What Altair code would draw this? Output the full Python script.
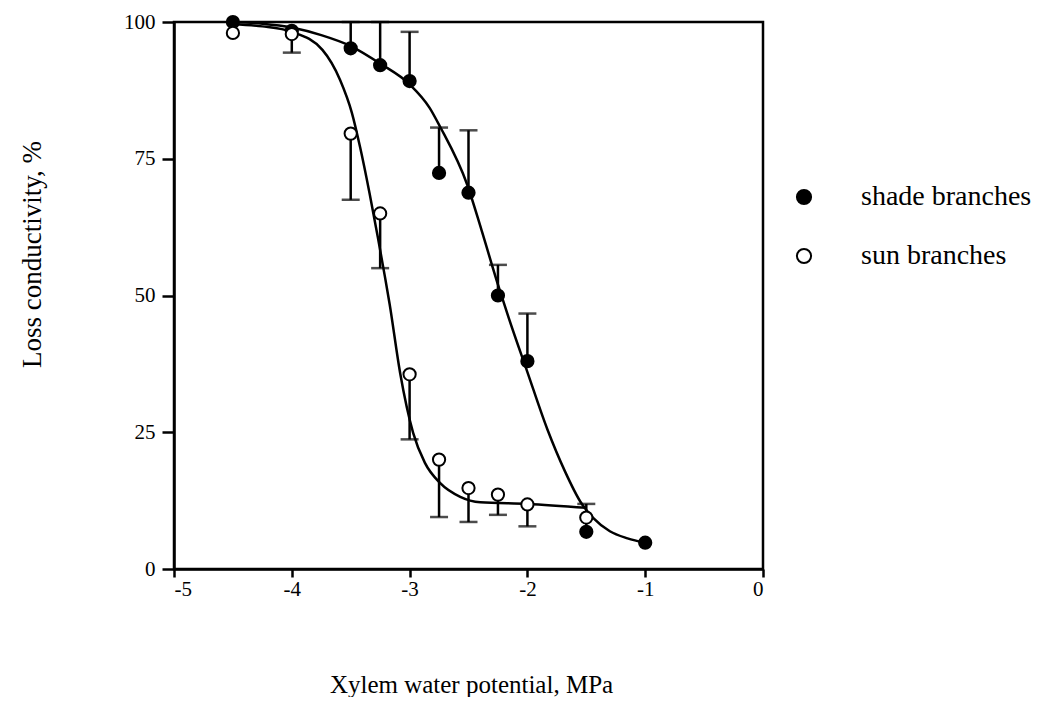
import altair as alt
import pandas as pd

# ---- measured points ----
shade_x = [-4.5, -4.0, -3.5, -3.25, -3.0, -2.75, -2.5, -2.25, -2.0, -1.5, -1.0]
shade_y = [100.0, 98.4, 95.2, 92.1, 89.2, 72.4, 68.8, 50.0, 38.0, 6.8, 4.8]
shade_bound = [None, None, 100.0, 100.0, 98.2, 80.7, 80.2, 55.6, 46.7, 11.9, None]

sun_x = [-4.5, -4.0, -3.5, -3.25, -3.0, -2.75, -2.5, -2.25, -2.0, -1.5]
sun_y = [98.0, 97.8, 79.6, 65.0, 35.6, 20.0, 14.8, 13.6, 11.8, 9.4]
sun_bound = [None, 94.4, 67.5, 55.0, 23.7, 9.5, 8.6, 9.9, 7.8, None]

# ---- fitted curves ----
shade_curve_x = [-4.5, -4.25, -4.0, -3.75, -3.5, -3.25, -3.0, -2.83, -2.74, -2.51, -2.39,
                 -2.25, -2.16, -2.0, -1.83, -1.68, -1.55, -1.44, -1.3, -1.15, -1.0]
shade_curve_y = [100.0, 99.7, 99.0, 97.6, 95.6, 92.4, 88.6, 84.3, 80.8, 70.2, 62.0,
                 52.0, 46.0, 36.0, 25.5, 17.8, 12.3, 9.3, 6.9, 5.6, 4.8]

sun_curve_x = [-4.5, -4.25, -4.0, -3.74, -3.59, -3.49, -3.42, -3.34, -3.27, -3.21, -3.17,
               -3.08, -2.97, -2.87, -2.74, -2.57, -2.4, -2.0, -1.5]
sun_curve_y = [99.6, 99.2, 98.2, 94.9, 89.4, 83.4, 77.1, 68.7, 60.7, 53.5, 48.5,
               35.8, 24.9, 19.4, 15.7, 13.2, 12.2, 11.9, 11.2]

series_names = ["shade branches", "sun branches"]
x_ticks = [-5, -4, -3, -2, -1, 0]
y_ticks = [0, 25, 50, 75, 100]

FONT = "Liberation Serif"

points = pd.DataFrame(
    {"x": shade_x + sun_x,
     "y": shade_y + sun_y,
     "bound": shade_bound + sun_bound,
     "series": [series_names[0]] * len(shade_x) + [series_names[1]] * len(sun_x)}
)
errs = points.dropna(subset=["bound"])

curves = pd.DataFrame(
    {"x": shade_curve_x + sun_curve_x,
     "y": shade_curve_y + sun_curve_y,
     "series": [series_names[0]] * len(shade_curve_x) + [series_names[1]] * len(sun_curve_x)}
)

xscale = alt.Scale(domain=[-5, 0], nice=False, zero=False)
yscale = alt.Scale(domain=[0, 100], nice=False, zero=False)

xaxis = alt.Axis(values=x_ticks, title="Xylem water potential, MPa", grid=False,
                 labelExpr="toString(datum.value)", tickSize=8, tickWidth=2.5,
                 domainWidth=2.5, labelPadding=1, labelFontSize=21,
                 titleFontSize=25, titleFontWeight="normal",
                 titleY=115, titleBaseline="middle", titleX=297)
yaxis = alt.Axis(values=y_ticks, title="Loss conductivity, %", grid=False,
                 tickSize=12, tickWidth=2.5, domainWidth=2.5, labelPadding=7,
                 labelFontSize=21, titleFontSize=27, titleFontWeight="normal",
                 titleX=-134, titleY=232, titleAngle=270, titleBaseline="alphabetic")

X = alt.X("x:Q", scale=xscale, axis=xaxis)
Y = alt.Y("y:Q", scale=yscale, axis=yaxis)

lines = alt.Chart(curves).mark_line(color="black", strokeWidth=2.5,
                                    interpolate="monotone").encode(
    x=X, y=Y, detail="series:N")

rules = alt.Chart(errs).mark_rule(color="black", strokeWidth=2.5).encode(
    x="x:Q", y="y:Q", y2="bound:Q")

caps = alt.Chart(errs).mark_tick(color="black", thickness=2.5, size=18,
                                 orient="horizontal").encode(
    x="x:Q", y="bound:Q")

dots = alt.Chart(points).mark_point(filled=True, size=150, stroke="black",
                                    strokeWidth=2, opacity=1).encode(
    x="x:Q", y="y:Q",
    fill=alt.Fill("series:N",
                  scale=alt.Scale(domain=series_names, range=["black", "white"]),
                  legend=alt.Legend(title=None, orient="none", legendX=616,
                                    legendY=161, labelFontSize=28,
                                    labelFont=FONT, labelOffset=43,
                                    labelLimit=400,
                                    rowPadding=31, symbolSize=200,
                                    symbolStrokeColor="black",
                                    symbolStrokeWidth=2, symbolType="circle",
                                    labelColor="black")),
)

chart = alt.layer(lines, rules, caps, dots).properties(
    width=589, height=547,
    autosize=alt.AutoSizeParams(type="none"),
    padding={"left": 166, "top": 14, "right": 280, "bottom": 128},
    background="white",
).configure_view(
    stroke="black", strokeWidth=2.5
).configure_axis(
    labelFont=FONT, titleFont=FONT, labelColor="black", titleColor="black",
    domainColor="black", tickColor="black"
)

chart.save("out.html", embed_options={"renderer": "svg", "actions": False})
